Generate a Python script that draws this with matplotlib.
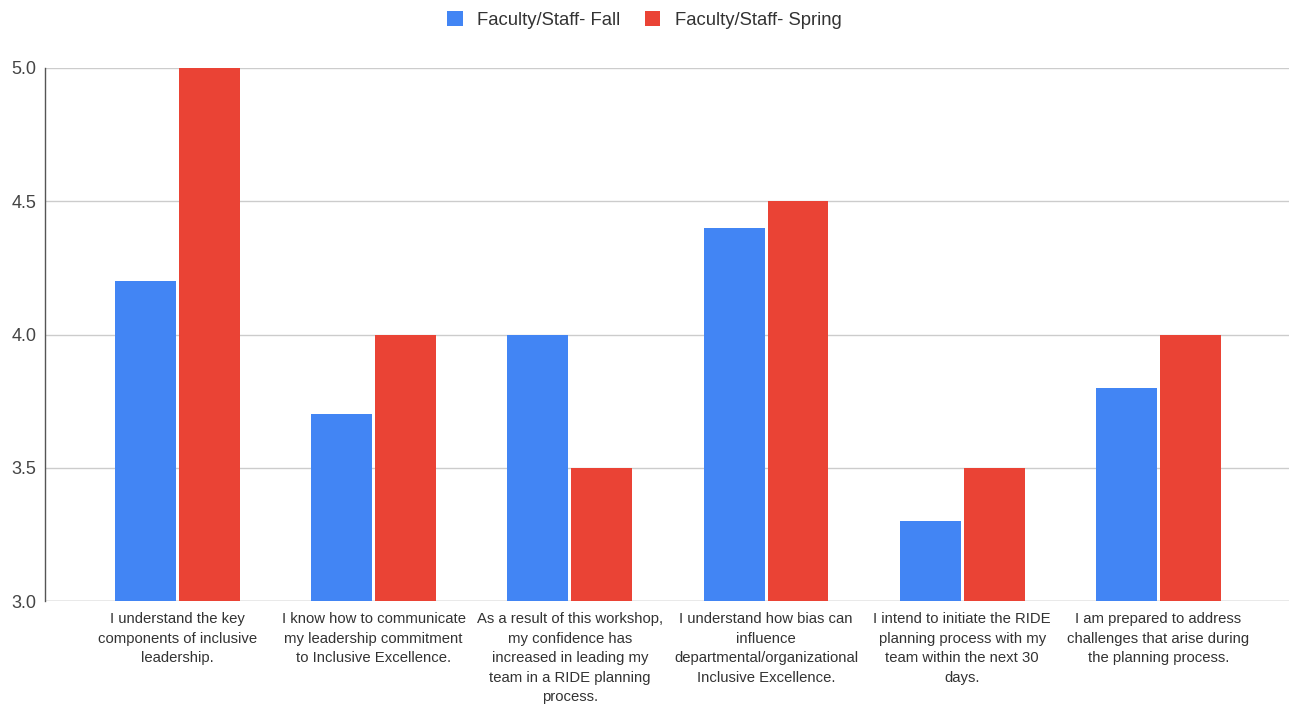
import matplotlib.pyplot as plt
import numpy as np

plt.rcParams['font.family'] = ['Liberation Sans', 'DejaVu Sans']

# survey items (x labels) and mean ratings per term
questions = [
    "I understand the key\ncomponents of inclusive\nleadership.",
    "I know how to communicate\nmy leadership commitment\nto Inclusive Excellence.",
    "As a result of this workshop,\nmy confidence has\nincreased in leading my\nteam in a RIDE planning\nprocess.",
    "I understand how bias can\ninfluence\ndepartmental/organizational\nInclusive Excellence.",
    "I intend to initiate the RIDE\nplanning process with my\nteam within the next 30\ndays.",
    "I am prepared to address\nchallenges that arise during\nthe planning process.",
]
fall = [4.2, 3.7, 4.0, 4.4, 3.3, 3.8]
spring = [5.0, 4.0, 3.5, 4.5, 3.5, 4.0]
series_names = ["Faculty/Staff- Fall", "Faculty/Staff- Spring"]
yticks = [3.0, 3.5, 4.0, 4.5, 5.0]

fig = plt.figure(figsize=(12.89, 7.06), dpi=100)
ax = fig.add_axes([0.0349, 0.1487, 0.9651, 0.755])

x = np.arange(len(questions))
w = 0.31
ax.bar(x - 0.163, np.array(fall) - 3.0, w, bottom=3.0, color='#4285F4', label=series_names[0], zorder=3)
ax.bar(x + 0.163, np.array(spring) - 3.0, w, bottom=3.0, color='#EA4335', label=series_names[1], zorder=3)

ax.set_ylim(3.0, 5.0)
ax.set_xlim(-0.675, 5.665)
ax.set_yticks(yticks)
ax.set_yticklabels([f"{v:.1f}" for v in yticks], fontsize=13, color='#444444')
ax.set_xticks(x)
ax.set_xticklabels(questions, fontsize=10.7, color='#333333', linespacing=1.5, va='top')
ax.tick_params(axis='both', length=0)
ax.tick_params(axis='x', pad=8)
ax.tick_params(axis='y', pad=6)

ax.grid(axis='y', color='#cccccc', linewidth=1, zorder=0)
for s in ['top', 'right', 'bottom']:
    ax.spines[s].set_visible(False)
ax.spines['left'].set_color('#555555')
ax.spines['left'].set_linewidth(1)
ax.axhline(3.0, color='#bbbbbb', linewidth=1, zorder=1)

fig.legend(loc='upper center', bbox_to_anchor=(0.5, 1.008), ncol=2, frameon=False,
           fontsize=13.3, handlelength=0.85, handleheight=0.85, columnspacing=1.3,
           handletextpad=0.8, labelcolor='#333333')

fig.savefig('out.png', dpi=100, facecolor='white')
